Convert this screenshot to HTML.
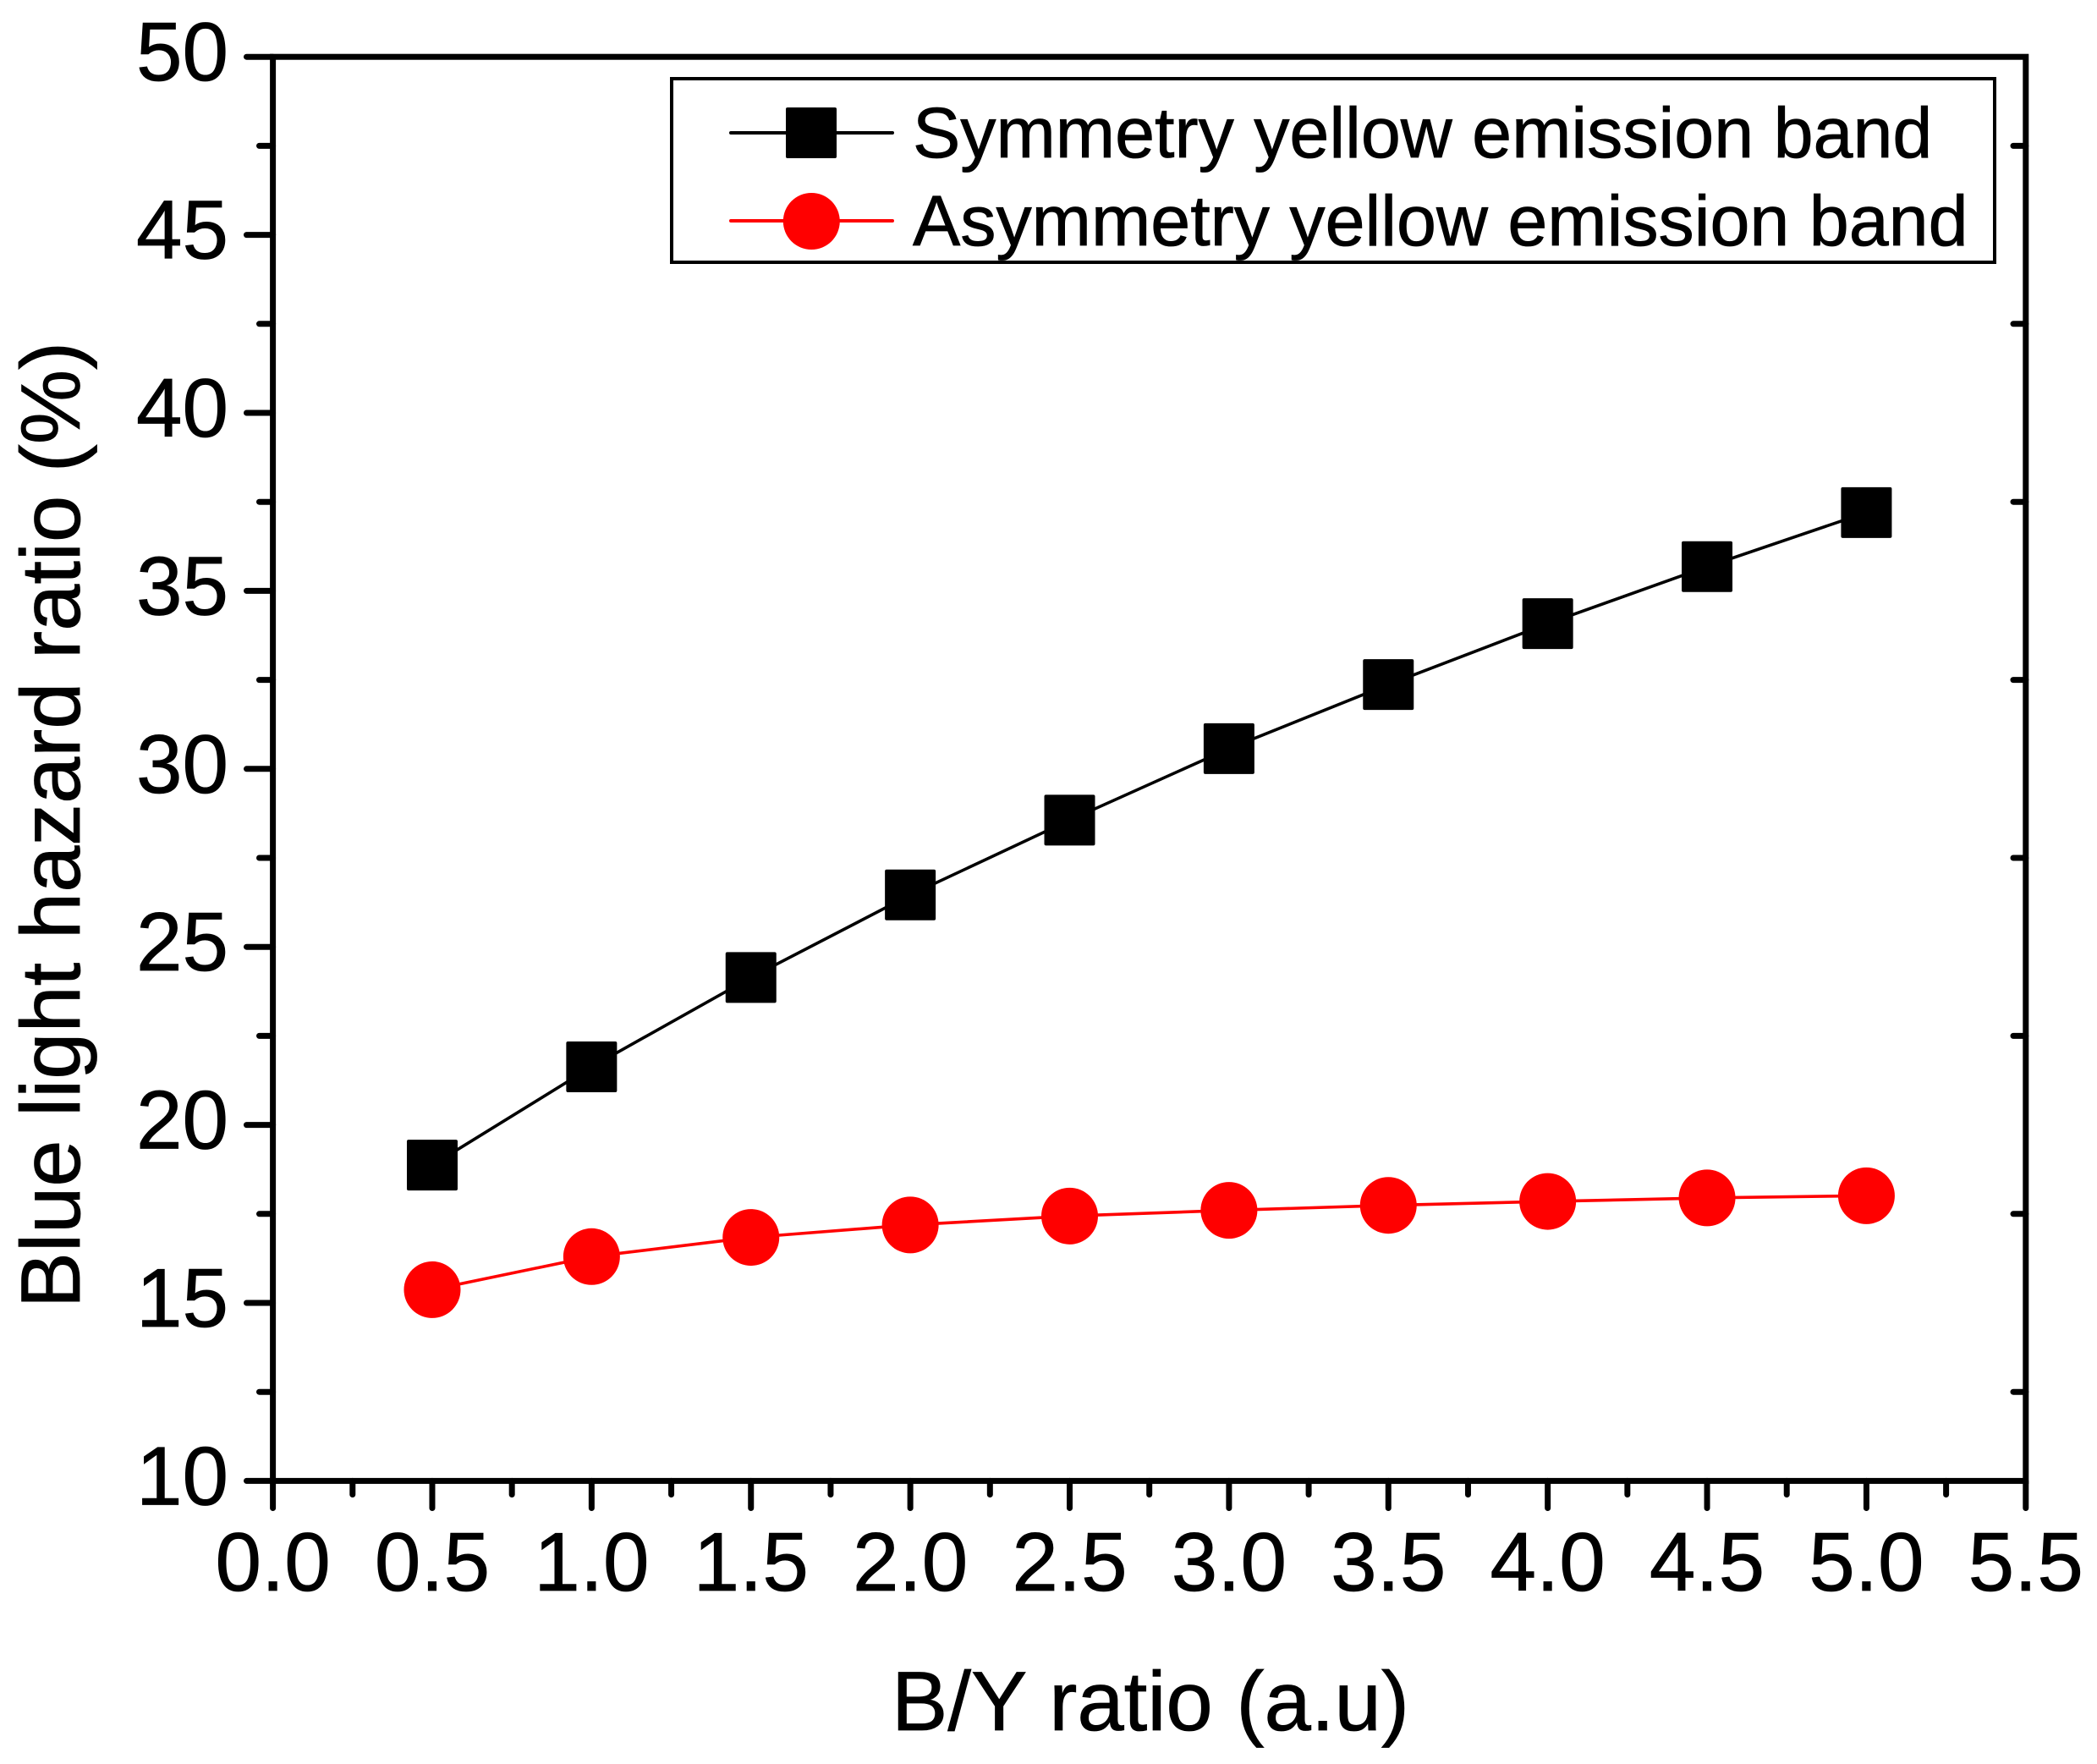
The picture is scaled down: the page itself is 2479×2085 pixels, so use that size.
<!DOCTYPE html>
<html>
<head>
<meta charset="utf-8">
<title>Blue light hazard ratio vs B/Y ratio</title>
<style>
  html, body { margin: 0; padding: 0; background: #fff; }
  svg { display: block; }
  text { font-family: "Liberation Sans", Arial, sans-serif; fill: #000; stroke: #000; stroke-width: 0.8px; }
</style>
</head>
<body>
<svg id="chart" xmlns="http://www.w3.org/2000/svg" width="2479" height="2085" viewBox="0 0 2479 2085">
  <rect x="0" y="0" width="2479" height="2085" fill="#fff"/>
  <g id="ticks"></g>
  <g id="series"></g>
  <g id="spines"></g>
  <g id="labels"></g>
  <text x="1360" y="2045" font-size="99.5" text-anchor="middle">B/Y ratio (a.u)</text>
  <text transform="translate(94,975) rotate(-90)" font-size="99.3" text-anchor="middle">Blue light hazard ratio (%)</text>
  <g>
    <rect x="794" y="93" width="1564" height="217" fill="#fff" stroke="#000" stroke-width="4"/>
    <line x1="864" y1="157" x2="1055" y2="157" stroke="#000" stroke-width="4" stroke-linecap="round"/>
    <rect x="929" y="127" width="60" height="60" rx="2" fill="#000"/>
    <text x="1079" y="186" font-size="84.4">Symmetry yellow emission band</text>
    <line x1="864" y1="261" x2="1055" y2="261" stroke="#f00" stroke-width="4" stroke-linecap="round"/>
    <circle cx="959.3" cy="261.5" r="33.5" fill="#f00"/>
    <text x="1079" y="290" font-size="84.4">Asymmetry yellow emission band</text>
  </g>
</svg>
<script>
const categories = [0.5, 1.0, 1.5, 2.0, 2.5, 3.0, 3.5, 4.0, 4.5, 5.0];
const symmetryValues = [18.87, 21.63, 24.14, 26.46, 28.56, 30.57, 32.37, 34.08, 35.68, 37.2];
const asymmetryValues = [15.37, 16.3, 16.84, 17.19, 17.44, 17.6, 17.74, 17.85, 17.95, 18.01];
const xTickLabels = ["0.0", "0.5", "1.0", "1.5", "2.0", "2.5", "3.0", "3.5", "4.0", "4.5", "5.0", "5.5"];
const yTickLabels = ["10", "15", "20", "25", "30", "35", "40", "45", "50"];

const NS = "http://www.w3.org/2000/svg";
const left = 322.6, right = 2394.8, top_ = 67.2, bottom = 1750.4;
const xMin = 0, xMax = 5.5, yMin = 10, yMax = 50;
function xScale(v) { return left + (v - xMin) / (xMax - xMin) * (right - left); }
function yScale(v) { return bottom - (v - yMin) / (yMax - yMin) * (bottom - top_); }

function make(tag, parent, attrs) {
  const el = document.createElementNS(NS, tag);
  for (const k in attrs) el.setAttribute(k, attrs[k]);
  parent.appendChild(el);
  return el;
}

const ticksG = document.getElementById("ticks");
const labelsG = document.getElementById("labels");
const seriesG = document.getElementById("series");
const spinesG = document.getElementById("spines");

function tickLine(parent, x1, y1, x2, y2) {
  return make("line", parent, { x1: x1, y1: y1, x2: x2, y2: y2, stroke: "#000", "stroke-width": 7, "stroke-linecap": "round" });
}

xTickLabels.forEach(function (lab, i) {
  const v = parseFloat(lab);
  const x = xScale(v);
  const major = tickLine(ticksG, x, bottom, x, 1782.5);
  
  
  const t = make("text", labelsG, { x: x, y: 1880, "font-size": 98, "text-anchor": "middle" });
  t.textContent = lab;
  
  
  if (i < xTickLabels.length - 1) {
    const mx = xScale(v + 0.25);
    const minor = tickLine(ticksG, mx, bottom, mx, 1766.5);
    
    
  }
});

yTickLabels.forEach(function (lab, i) {
  const v = parseFloat(lab);
  const y = yScale(v);
  const major = tickLine(ticksG, left, y, 291.5, y);
  
  
  const t = make("text", labelsG, { x: 270, y: y + 28, "font-size": 98, "text-anchor": "end" });
  t.textContent = lab;
  
  
  if (i < yTickLabels.length - 1) {
    const my = yScale(v + 2.5);
    const minor = tickLine(ticksG, left, my, 306.5, my);
    
    
    const rightMinor = tickLine(ticksG, right, my, 2380, my);
    
    
  }
});

const frame = make("rect", spinesG, { x: left, y: top_, width: right - left, height: bottom - top_, fill: "none", stroke: "#000", "stroke-width": 7 });



function drawSeries(values, color, kind) {
  const pts = values.map(function (v, i) { return xScale(categories[i]).toFixed(1) + "," + yScale(v).toFixed(1); }).join(" ");
  const line = make("polyline", seriesG, { points: pts, fill: "none", stroke: color, "stroke-width": 3.6 });
  
  
  values.forEach(function (v, i) {
    const cx = xScale(categories[i]), cy = yScale(v);
    let m;
    if (kind === "symmetry") {
      m = make("rect", seriesG, { x: cx - 30, y: cy - 30, width: 60, height: 60, rx: 2, fill: color });
    } else {
      m = make("circle", seriesG, { cx: cx, cy: cy, r: 33.5, fill: color });
    }
    
    
  });
}
drawSeries(symmetryValues, "#000", "symmetry");
drawSeries(asymmetryValues, "#f00", "asymmetry");
</script>
</body>
</html>
